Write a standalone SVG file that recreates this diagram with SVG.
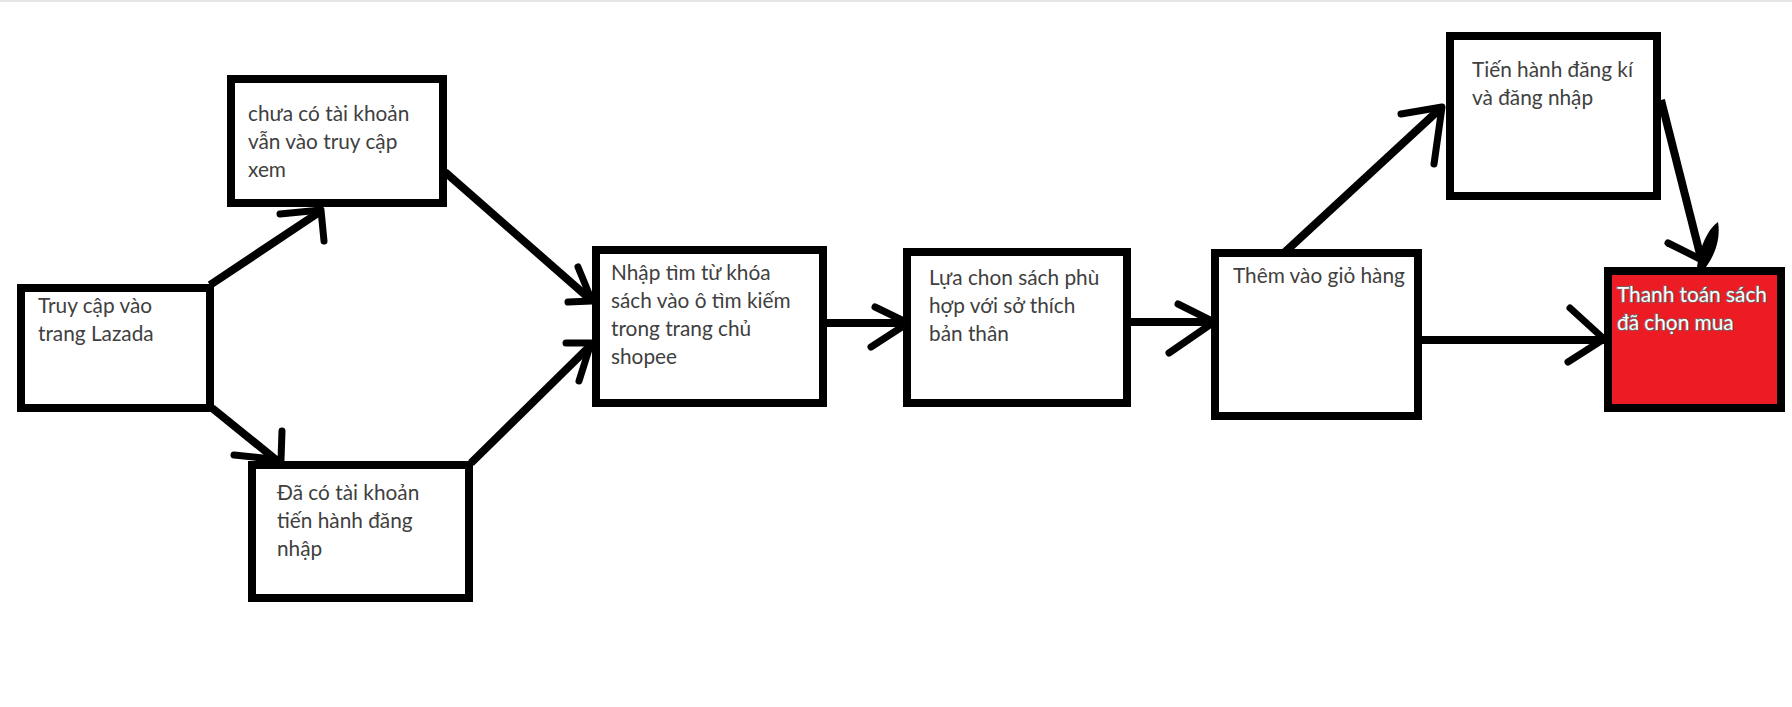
<svg xmlns="http://www.w3.org/2000/svg" width="1792" height="707" viewBox="0 0 1792 707">
<style>
.box{fill:#fff;stroke:#000;stroke-width:8}
.red{fill:#ED1C24}
.t{font-family:Lato,"Liberation Sans","Noto Sans",sans-serif;font-size:20.8px;fill:#404040}
.tw{fill:#fff;stroke:#6a6a6a;stroke-width:1.6px;paint-order:stroke}
.ln{fill:none;stroke:#000;stroke-width:8}
.ah{fill:none;stroke:#000;stroke-width:7;stroke-linecap:round;stroke-linejoin:round}
</style>
<rect x="0" y="0" width="1792" height="707" fill="#fff"/>
<line x1="0" y1="1" x2="1792" y2="1" stroke="#e6e6e6" stroke-width="2"/>
<g id="connectors">
  <line class="ln" x1="210" y1="285" x2="321" y2="211"/>
  <path class="ah" d="M280,214 L321,210 L324,241"/>
  <line class="ln" x1="212" y1="408" x2="280" y2="463"/>
  <path class="ah" d="M234,455 L281,460 L282,431"/>
  <line class="ln" x1="445" y1="172" x2="591" y2="300"/>
  <path class="ah" d="M578,267 L592,301 L568,302"/>
  <line class="ln" x1="471" y1="463" x2="591" y2="345"/>
  <path class="ah" d="M566,343 L591,343 L579,381"/>
  <line class="ln" x1="823" y1="323" x2="908" y2="323"/>
  <path class="ah" d="M875,307 L908,323 L871,347"/>
  <line class="ln" x1="1127" y1="322" x2="1214" y2="322"/>
  <path class="ah" d="M1178,304 L1214,322 L1169,353"/>
  <line class="ln" x1="1285" y1="252" x2="1442" y2="107"/>
  <path class="ah" d="M1401,114 L1442,107 L1434,164"/>
  <line class="ln" x1="1661" y1="100" x2="1702" y2="262"/>
  <path class="ah" d="M1668,243 L1700,259"/>
  <path d="M1697,267 C1700,246 1708,229 1718,222 C1721,240 1714,256 1706,267 Z" fill="#000"/>
  <line class="ln" x1="1418" y1="340" x2="1604" y2="340"/>
  <path class="ah" d="M1570,308 L1604,339 L1568,362"/>
</g>
<g id="n1">
  <rect class="box" x="21" y="288" width="189" height="120"/>
  <text class="t" x="38" y="313">Truy cập vào</text>
  <text class="t" x="38" y="341">trang Lazada</text>
</g>
<g id="n2">
  <rect class="box" x="231" y="79" width="212" height="124"/>
  <text class="t" x="248" y="121">chưa có tài khoản</text>
  <text class="t" x="248" y="149">vẫn vào truy cập</text>
  <text class="t" x="248" y="177">xem</text>
</g>
<g id="n3">
  <rect class="box" x="252" y="465" width="217" height="133"/>
  <text class="t" x="277" y="500">Đã có tài khoản</text>
  <text class="t" x="277" y="528">tiến hành đăng</text>
  <text class="t" x="277" y="556">nhập</text>
</g>
<g id="n4">
  <rect class="box" x="596" y="250" width="227" height="153"/>
  <text class="t" x="611" y="280">Nhập tìm từ khóa</text>
  <text class="t" x="611" y="308">sách vào ô tìm kiếm</text>
  <text class="t" x="611" y="336">trong trang chủ</text>
  <text class="t" x="611" y="364">shopee</text>
</g>
<g id="n5">
  <rect class="box" x="907" y="252" width="220" height="151"/>
  <text class="t" x="929" y="285">Lựa chon sách phù</text>
  <text class="t" x="929" y="313">hợp với sở thích</text>
  <text class="t" x="929" y="341">bản thân</text>
</g>
<g id="n6">
  <rect class="box" x="1215" y="253" width="203" height="163"/>
  <text class="t" x="1233" y="283">Thêm vào giỏ hàng</text>
</g>
<g id="n7">
  <rect class="box" x="1450" y="36" width="207" height="160"/>
  <text class="t" x="1472" y="77">Tiến hành đăng kí</text>
  <text class="t" x="1472" y="105">và đăng nhập</text>
</g>
<g id="n8">
  <rect class="box red" x="1608" y="271" width="173" height="137"/>
  <text class="t tw" x="1617" y="302">Thanh toán sách</text>
  <text class="t tw" x="1617" y="330">đã chọn mua</text>
</g>
</svg>
